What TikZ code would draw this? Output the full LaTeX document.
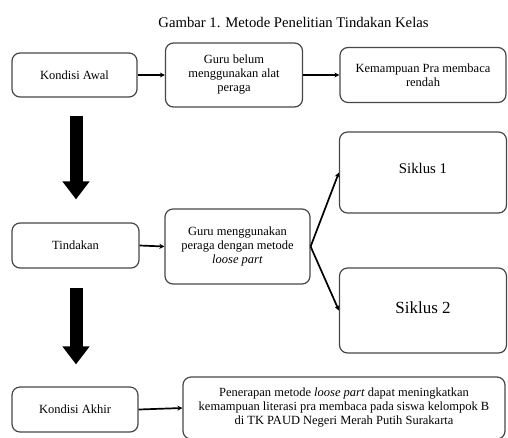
\documentclass[tikz,border=0pt]{standalone}
\usepackage{fontspec}
\setmainfont{Liberation Serif}
\usetikzlibrary{arrows.meta,calc}
\definecolor{boxline}{HTML}{474747}
\begin{document}
\begin{tikzpicture}[x=1pt,y=-1pt,
  box/.style={draw=boxline, line width=1.2pt, rounded corners=8pt, align=center,
    inner sep=2pt, font=\fontsize{12.5}{14}\selectfont},
  conn/.style={draw=black, line width=1.7pt, -{Stealth[length=5pt,width=5pt]}},
  bigarrow/.style={draw=black, line width=13pt, -{Triangle[length=18pt,width=26pt]}}]
\useasboundingbox (0,0) rectangle (508,437);
\begin{scope}
\clip (0,0) rectangle (508,437);
\node[font=\fontsize{14.7}{16}\selectfont] (title) at (293.5,23) {Gambar 1. Metode Penelitian Tindakan Kelas};

\node[box, minimum width=125pt, minimum height=44pt] (awal) at (74.5,75) {Kondisi Awal};
\node[box, minimum width=137pt, minimum height=64pt] (belum) at (234,75) {Guru belum\\menggunakan alat\\peraga};
\node[box, minimum width=166pt, minimum height=55pt] (kemampuan) at (423,75) {Kemampuan Pra membaca\\rendah};

\node[box, minimum width=167pt, minimum height=81pt, text depth=8pt, font=\fontsize{14.8}{16}\selectfont] (siklus1) at (423,172.5) {Siklus 1};
\node[box, minimum width=127pt, minimum height=45pt] (tind) at (75.5,245.5) {Tindakan};
\node[box, minimum width=145pt, minimum height=75pt] (guru) at (237.5,246.5) {Guru menggunakan\\peraga dengan metode\\\textit{loose part}};
\node[box, minimum width=167pt, minimum height=85pt, text depth=6pt, font=\fontsize{17}{19}\selectfont] (siklus2) at (423,310.5) {Siklus 2};

\node[box, minimum width=126pt, minimum height=45pt] (akhir) at (75,409.5) {Kondisi Akhir};
\node[box, minimum width=322pt, minimum height=62pt] (penerapan) at (344,408) {Penerapan metode \textit{loose part} dapat meningkatkan\\kemampuan literasi pra membaca pada siswa kelompok B\\di TK PAUD Negeri Merah Putih Surakarta};

\draw[conn] (awal.east) -- (belum.west);
\draw[conn] (belum.east) -- (kemampuan.west);
\draw[conn] (tind.east) -- (guru.west);
\draw[conn] (guru.east) -- (siklus1.west);
\draw[conn] (guru.east) -- (siklus2.west);
\draw[conn] (akhir.east) -- (penerapan.west);

\draw[bigarrow, shorten <=18pt, shorten >=23pt] ([xshift=1.5pt]awal.south) -- ([xshift=0.5pt]tind.north);
\draw[bigarrow, shorten <=19pt, shorten >=22pt] ([xshift=0.5pt]tind.south) -- ([xshift=1pt]akhir.north);
\end{scope}
\end{tikzpicture}
\end{document}
